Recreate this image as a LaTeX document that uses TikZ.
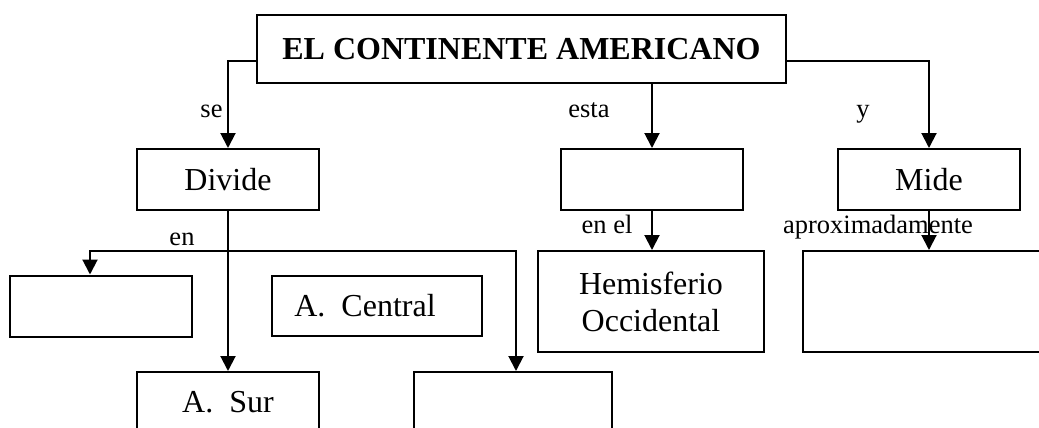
\documentclass[tikz,border=0pt]{standalone}
\usepackage{fontspec}
\setmainfont{Liberation Serif}
\usetikzlibrary{arrows.meta}

\begin{document}
\begin{tikzpicture}[
  x=0.5pt, y=-0.5pt,
  box/.style={rectangle, draw, line width=1pt, inner sep=0pt, minimum width=91pt, minimum height=30.5pt, font=\fontsize{16}{18.5}\selectfont, align=center},
  arrow/.style={-{Triangle[width=7.5pt,length=7.5pt]}, line width=1pt},
  note/.style={font=\fontsize{13.25}{15}\selectfont, inner sep=0pt, anchor=base}
]
\clip (0,0) rectangle (1039,428);

% Boxes
\node[box, minimum width=264.5pt, minimum height=34pt, font=\fontsize{16}{19}\selectfont\bfseries] (title) at (521.5,49) {EL CONTINENTE AMERICANO};
\node[box] (divide) at (228,179.5) {Divide};
\node[box] (esta) at (652,179.5) {};
\node[box] (mide) at (929,179.5) {Mide};
\node[box] (west) at (101,306) {};
\node[box, minimum width=105pt, minimum height=30pt] (central) at (377,306) {A.\ \ Central\hspace{12pt}};
\node[box] (sur) at (228,402.5) {A.\ \ Sur};
\node[box, minimum width=99pt] (blank) at (513,402.5) {};
\node[box, minimum width=113pt, minimum height=50.5pt] (hemis) at (651,301.5) {Hemisferio\\Occidental};
\node[box, minimum width=121pt, minimum height=50.5pt] (medida) at (924,301.5) {};

% Links from the title
\draw[arrow] ([yshift=-6pt]title.west) -| (divide.north);
\draw[arrow] (title.south -| esta.north) -- (esta.north);
\draw[arrow] ([yshift=-6pt]title.east) -| (mide.north);

% Second level
\draw[arrow] (divide.south) -- (sur.north);
\coordinate (enrow) at (228,251);
\draw[arrow] (enrow) -| ([xshift=-5.5pt]west.north);
\draw[arrow] (enrow) -| ([xshift=1.5pt]blank.north);
\draw[arrow] (esta.south) -- (esta.south |- hemis.north);
\draw[arrow] (mide.south) -- (mide.south |- medida.north);

% Labels
\node[note] (se) at (211.5,117) {se};
\node[note] (estalbl) at (589,117) {esta};
\node[note] (ylbl) at (863,117) {y};
\node[note] (en) at (182,245) {en};
\node[note] (enel) at (607,233) {en el};
\node[note] (aprox) at (878,233) {aproximadamente};

\end{tikzpicture}
\end{document}
